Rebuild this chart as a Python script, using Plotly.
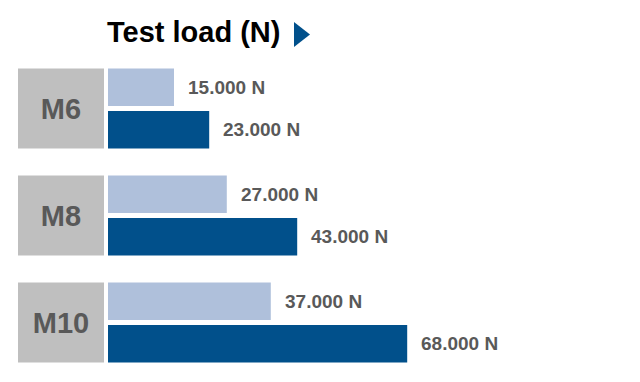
import plotly.graph_objects as go

sizes = ["M6", "M8", "M10"]
load_low = [15000, 27000, 37000]
load_high = [23000, 43000, 68000]
title_text = "Test load (N)"

LIGHT = "#AFC0DB"
DARK = "#01508B"
GRAY = "#BFBFBF"
TXT = "#595959"
FONT = "Liberation Sans, Arial, sans-serif"

W, H = 640, 382
MT, MB = 55, 6
px_per_n = 0.0044
plot_left = 108
PH = H - MT - MB

def py(y_px):
    # convert pixel y (from top) to paper y
    return (H - MB - y_px) / PH

def fmt(v):
    return f"{v:,}".replace(",", ".") + " N"

fig = go.Figure()
fig.add_trace(go.Bar(y=sizes, x=load_low, orientation="h", marker_color=LIGHT,
                     marker_line_width=0, xaxis="x", yaxis="y", hoverinfo="skip"))
fig.add_trace(go.Bar(y=sizes, x=load_high, orientation="h", marker_color=DARK,
                     marker_line_width=0, xaxis="x", yaxis="y", hoverinfo="skip"))
# gray label boxes
fig.add_trace(go.Bar(y=sizes, x=[1] * len(sizes), orientation="h", marker_color=GRAY,
                     marker_line_width=0, width=80 / 107, xaxis="x2", yaxis="y",
                     text=sizes, textposition="inside", insidetextanchor="middle",
                     textangle=0,
                     textfont=dict(family=FONT, size=29, color=TXT, weight="bold"),
                     hoverinfo="skip"))

annotations = []
for s, lo, hi in zip(sizes, load_low, load_high):
    for v, ys in ((lo, 21.25), (hi, -21.25)):
        annotations.append(dict(x=v, y=s, xref="x", yref="y", text=fmt(v),
                                showarrow=False, xanchor="left", xshift=12, yshift=ys,
                                font=dict(family=FONT, size=19, color=TXT, weight="bold")))
annotations.append(dict(x=105 / W, y=py(32), xref="paper", yref="paper",
                        text=title_text, showarrow=False, xanchor="left", yanchor="middle",
                        font=dict(family=FONT, size=29, color="black", weight="bold")))

plot_w = W - plot_left
fig.update_layout(
    width=W, height=H,
    margin=dict(l=0, r=0, t=MT, b=MB, pad=0),
    paper_bgcolor="white", plot_bgcolor="white",
    barmode="group", bargap=0.2056, bargroupgap=0.1176,
    showlegend=False,
    xaxis=dict(domain=[plot_left / W, 1], range=[0, plot_w / px_per_n], visible=False,
               fixedrange=True),
    xaxis2=dict(domain=[18 / W, 104 / W], range=[0, 1], visible=False, anchor="y"),
    yaxis=dict(autorange="reversed", visible=False, type="category"),
    annotations=annotations,
    shapes=[dict(type="path", xref="paper", yref="paper",
                 path=f"M {294/W} {py(22)} L {310/W} {py(34.5)} L {294/W} {py(47)} Z",
                 fillcolor=DARK, line_width=0)],
)

fig.write_html("out.html", config={"displayModeBar": False},
               post_script="document.body.style.margin='0';")
